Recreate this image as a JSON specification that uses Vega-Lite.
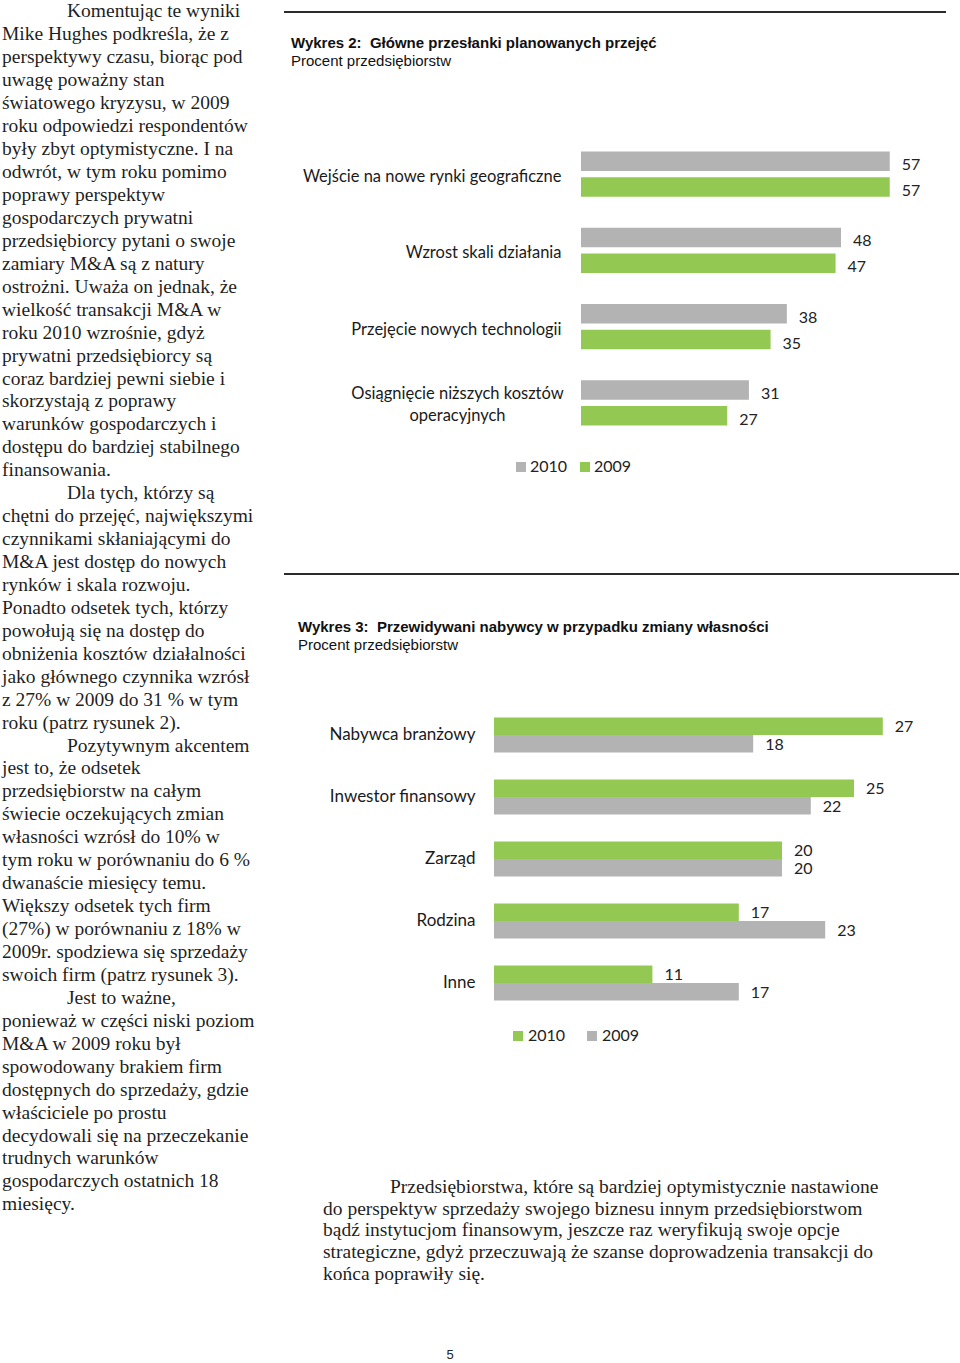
{
  "$schema": "https://vega.github.io/schema/vega-lite/v6.json",
  "padding": {"left": 2, "top": 0, "right": 0, "bottom": 0},
  "background": "white",
  "config": {
    "view": {"stroke": null},
    "title": {"font": "Liberation Sans", "fontSize": 15, "fontWeight": "bold", "color": "#111111", "subtitleFont": "Liberation Sans", "subtitleFontSize": 15, "subtitleColor": "#111111", "subtitlePadding": 3, "anchor": "start", "frame": "group"}
  },
  "datasets": {
    "lewa": [
      {"wiersz": 1, "wciecie": 1, "tekst": "Komentując te wyniki"},
      {"wiersz": 2, "wciecie": 0, "tekst": "Mike Hughes podkreśla, że z"},
      {"wiersz": 3, "wciecie": 0, "tekst": "perspektywy czasu, biorąc pod"},
      {"wiersz": 4, "wciecie": 0, "tekst": "uwagę poważny stan"},
      {"wiersz": 5, "wciecie": 0, "tekst": "światowego kryzysu, w 2009"},
      {"wiersz": 6, "wciecie": 0, "tekst": "roku odpowiedzi respondentów"},
      {"wiersz": 7, "wciecie": 0, "tekst": "były zbyt optymistyczne. I na"},
      {"wiersz": 8, "wciecie": 0, "tekst": "odwrót, w tym roku pomimo"},
      {"wiersz": 9, "wciecie": 0, "tekst": "poprawy perspektyw"},
      {"wiersz": 10, "wciecie": 0, "tekst": "gospodarczych prywatni"},
      {"wiersz": 11, "wciecie": 0, "tekst": "przedsiębiorcy pytani o swoje"},
      {"wiersz": 12, "wciecie": 0, "tekst": "zamiary M&A są z natury"},
      {"wiersz": 13, "wciecie": 0, "tekst": "ostrożni. Uważa on jednak, że"},
      {"wiersz": 14, "wciecie": 0, "tekst": "wielkość transakcji M&A w"},
      {"wiersz": 15, "wciecie": 0, "tekst": "roku 2010 wzrośnie, gdyż"},
      {"wiersz": 16, "wciecie": 0, "tekst": "prywatni przedsiębiorcy są"},
      {"wiersz": 17, "wciecie": 0, "tekst": "coraz bardziej pewni siebie i"},
      {"wiersz": 18, "wciecie": 0, "tekst": "skorzystają z poprawy"},
      {"wiersz": 19, "wciecie": 0, "tekst": "warunków gospodarczych i"},
      {"wiersz": 20, "wciecie": 0, "tekst": "dostępu do bardziej stabilnego"},
      {"wiersz": 21, "wciecie": 0, "tekst": "finansowania."},
      {"wiersz": 22, "wciecie": 1, "tekst": "Dla tych, którzy są"},
      {"wiersz": 23, "wciecie": 0, "tekst": "chętni do przejęć, największymi"},
      {"wiersz": 24, "wciecie": 0, "tekst": "czynnikami skłaniającymi do"},
      {"wiersz": 25, "wciecie": 0, "tekst": "M&A jest dostęp do nowych"},
      {"wiersz": 26, "wciecie": 0, "tekst": "rynków i skala rozwoju."},
      {"wiersz": 27, "wciecie": 0, "tekst": "Ponadto odsetek tych, którzy"},
      {"wiersz": 28, "wciecie": 0, "tekst": "powołują się na dostęp do"},
      {"wiersz": 29, "wciecie": 0, "tekst": "obniżenia kosztów działalności"},
      {"wiersz": 30, "wciecie": 0, "tekst": "jako głównego czynnika wzrósł"},
      {"wiersz": 31, "wciecie": 0, "tekst": "z 27% w 2009 do 31 % w tym"},
      {"wiersz": 32, "wciecie": 0, "tekst": "roku (patrz rysunek 2)."},
      {"wiersz": 33, "wciecie": 1, "tekst": "Pozytywnym akcentem"},
      {"wiersz": 34, "wciecie": 0, "tekst": "jest to, że odsetek"},
      {"wiersz": 35, "wciecie": 0, "tekst": "przedsiębiorstw na całym"},
      {"wiersz": 36, "wciecie": 0, "tekst": "świecie oczekujących zmian"},
      {"wiersz": 37, "wciecie": 0, "tekst": "własności wzrósł do 10% w"},
      {"wiersz": 38, "wciecie": 0, "tekst": "tym roku w porównaniu do 6 %"},
      {"wiersz": 39, "wciecie": 0, "tekst": "dwanaście miesięcy temu."},
      {"wiersz": 40, "wciecie": 0, "tekst": "Większy odsetek tych firm"},
      {"wiersz": 41, "wciecie": 0, "tekst": "(27%) w porównaniu z 18% w"},
      {"wiersz": 42, "wciecie": 0, "tekst": "2009r. spodziewa się sprzedaży"},
      {"wiersz": 43, "wciecie": 0, "tekst": "swoich firm (patrz rysunek 3)."},
      {"wiersz": 44, "wciecie": 1, "tekst": "Jest to ważne,"},
      {"wiersz": 45, "wciecie": 0, "tekst": "ponieważ w części niski poziom"},
      {"wiersz": 46, "wciecie": 0, "tekst": "M&A w 2009 roku był"},
      {"wiersz": 47, "wciecie": 0, "tekst": "spowodowany brakiem firm"},
      {"wiersz": 48, "wciecie": 0, "tekst": "dostępnych do sprzedaży, gdzie"},
      {"wiersz": 49, "wciecie": 0, "tekst": "właściciele po prostu"},
      {"wiersz": 50, "wciecie": 0, "tekst": "decydowali się na przeczekanie"},
      {"wiersz": 51, "wciecie": 0, "tekst": "trudnych warunków"},
      {"wiersz": 52, "wciecie": 0, "tekst": "gospodarczych ostatnich 18"},
      {"wiersz": 53, "wciecie": 0, "tekst": "miesięcy."}
    ],
    "wykres2": [
      {"kategoria": "Wejście na nowe rynki geograficzne", "rok": "2010", "procent": 57},
      {"kategoria": "Wejście na nowe rynki geograficzne", "rok": "2009", "procent": 57},
      {"kategoria": "Wzrost skali działania", "rok": "2010", "procent": 48},
      {"kategoria": "Wzrost skali działania", "rok": "2009", "procent": 47},
      {"kategoria": "Przejęcie nowych technologii", "rok": "2010", "procent": 38},
      {"kategoria": "Przejęcie nowych technologii", "rok": "2009", "procent": 35},
      {"kategoria": "Osiągnięcie niższych kosztów operacyjnych", "rok": "2010", "procent": 31},
      {"kategoria": "Osiągnięcie niższych kosztów operacyjnych", "rok": "2009", "procent": 27}
    ],
    "wykres3": [
      {"kategoria": "Nabywca branżowy", "rok": "2010", "procent": 27},
      {"kategoria": "Nabywca branżowy", "rok": "2009", "procent": 18},
      {"kategoria": "Inwestor finansowy", "rok": "2010", "procent": 25},
      {"kategoria": "Inwestor finansowy", "rok": "2009", "procent": 22},
      {"kategoria": "Zarząd", "rok": "2010", "procent": 20},
      {"kategoria": "Zarząd", "rok": "2009", "procent": 20},
      {"kategoria": "Rodzina", "rok": "2010", "procent": 17},
      {"kategoria": "Rodzina", "rok": "2009", "procent": 23},
      {"kategoria": "Inne", "rok": "2010", "procent": 11},
      {"kategoria": "Inne", "rok": "2009", "procent": 17}
    ],
    "akapit": [
      {"wiersz": 1, "wciecie": 1, "tekst": "Przedsiębiorstwa, które są bardziej optymistycznie nastawione"},
      {"wiersz": 2, "wciecie": 0, "tekst": "do perspektyw sprzedaży swojego biznesu innym przedsiębiorstwom"},
      {"wiersz": 3, "wciecie": 0, "tekst": "bądź instytucjom finansowym, jeszcze raz weryfikują swoje opcje"},
      {"wiersz": 4, "wciecie": 0, "tekst": "strategiczne, gdyż przeczuwają że szanse doprowadzenia transakcji do"},
      {"wiersz": 5, "wciecie": 0, "tekst": "końca poprawiły się."}
    ]
  },
  "columns": 2,
  "align": "none",
  "spacing": 11,
  "resolve": {"scale": {"color": "independent", "yOffset": "independent"}, "legend": {"color": "independent"}},
  "concat": [
    {
      "data": {"name": "lewa"},
      "width": 270,
      "height": {"step": 23.07},
      "mark": {"type": "text", "align": "left", "baseline": "middle", "font": "Liberation Serif", "fontSize": 19.5, "color": "#1f1f1f"},
      "encoding": {
        "x": {"field": "wciecie", "type": "quantitative", "scale": {"domain": [0, 1], "range": [0, 65]}, "axis": null},
        "y": {"field": "wiersz", "type": "ordinal", "axis": null, "scale": {"paddingOuter": 0.35}},
        "text": {"field": "tekst", "type": "nominal"}
      }
    },
    {
      "columns": 1,
      "align": "none",
      "spacing": 87,
      "resolve": {"scale": {"color": "independent", "yOffset": "independent"}, "legend": {"color": "independent"}},
      "concat": [
        {
          "columns": 1,
          "align": "none",
          "spacing": 23,
          "resolve": {"scale": {"color": "independent", "yOffset": "independent"}, "legend": {"color": "independent"}},
          "concat": [
            {
              "width": 662,
              "height": 12,
              "data": {"values": [{"linia": "separator"}]},
              "mark": {"type": "rule", "color": "#2a2a2a", "strokeWidth": 2},
              "encoding": {"y": {"datum": 0, "type": "quantitative", "scale": {"domain": [0, 1]}, "axis": null}}
            },
            {
              "data": {"name": "wykres2"},
              "width": 640,
              "height": 305,
              "title": {"text": "Wykres 2:\u00a0 Główne przesłanki planowanych przejęć", "subtitle": "Procent przedsiębiorstw", "dx": 7, "offset": 67},
              "encoding": {
                "y": {
                  "field": "kategoria", "type": "nominal", "sort": null,
                  "scale": {"paddingInner": 0.404, "paddingOuter": 0.202},
                  "axis": {
                    "title": null, "domain": false, "ticks": false, "offset": -297,
                    "labelFont": "Lato", "labelFontSize": 16.5, "labelColor": "#1a1a1a",
                    "labelLimit": 400, "labelLineHeight": 22,
                    "labelExpr": "datum.value == 'Osiągnięcie niższych kosztów operacyjnych' ? ['Osiągnięcie niższych kosztów', 'operacyjnych'] : datum.value",
                    "labelAlign": {"condition": {"test": "datum.value == 'Osiągnięcie niższych kosztów operacyjnych'", "value": "center"}, "value": "right"},
                    "labelPadding": {"condition": {"test": "datum.value == 'Osiągnięcie niższych kosztów operacyjnych'", "value": 124}, "value": 20},
                    "labelOffset": {"condition": {"test": "datum.value == 'Osiągnięcie niższych kosztów operacyjnych'", "value": -9}, "value": 3}
                  }
                },
                "yOffset": {"field": "rok", "type": "nominal", "sort": ["2010", "2009"], "scale": {"paddingInner": 0.25, "paddingOuter": 0}},
                "x": {"field": "procent", "type": "quantitative", "scale": {"domain": [0, 60], "range": [297, 622]}, "axis": null}
              },
              "layer": [
                {
                  "mark": {"type": "bar"},
                  "encoding": {
                    "color": {
                      "field": "rok", "type": "nominal", "sort": ["2010", "2009"],
                      "scale": {"domain": ["2010", "2009"], "range": ["#b3b3b3", "#93c852"]},
                      "legend": {"title": null, "orient": "none", "legendX": 229, "legendY": 323, "direction": "horizontal", "symbolType": "square", "symbolSize": 100, "symbolStrokeWidth": 0, "symbolOpacity": 1, "labelFont": "Lato", "labelFontSize": 16, "labelColor": "#222222", "labelOffset": 1, "columnPadding": 9, "padding": 0}
                    }
                  }
                },
                {
                  "mark": {"type": "text", "align": "left", "baseline": "middle", "dx": 12, "dy": 4, "font": "Lato", "fontSize": 16, "color": "#222222"},
                  "encoding": {"text": {"field": "procent", "type": "quantitative"}}
                }
              ]
            }
          ]
        },
        {
          "columns": 1,
          "align": "none",
          "spacing": 132,
          "resolve": {"scale": {"color": "independent", "yOffset": "independent"}, "legend": {"color": "independent"}},
          "concat": [
            {
              "columns": 1,
              "align": "none",
              "spacing": 44,
              "resolve": {"scale": {"color": "independent", "yOffset": "independent"}, "legend": {"color": "independent"}},
              "concat": [
                {
                  "width": 675,
                  "height": 12,
                  "data": {"values": [{"linia": "separator"}]},
                  "mark": {"type": "rule", "color": "#2a2a2a", "strokeWidth": 2},
                  "encoding": {"y": {"datum": 0, "type": "quantitative", "scale": {"domain": [0, 1]}, "axis": null}}
                },
                {
                  "data": {"name": "wykres3"},
                  "width": 660,
                  "height": 310,
                  "title": {"text": "Wykres 3:\u00a0 Przewidywani nabywcy w przypadku zmiany własności", "subtitle": "Procent przedsiębiorstw", "dx": 14, "offset": 51.5},
                  "encoding": {
                    "y": {
                      "field": "kategoria", "type": "nominal", "sort": null,
                      "scale": {"paddingInner": 0.435, "paddingOuter": 0.2177},
                      "axis": {
                        "title": null, "domain": false, "ticks": false, "offset": -210,
                        "labelFont": "Lato", "labelFontSize": 17, "labelColor": "#1a1a1a",
                        "labelLimit": 400, "labelPadding": 19, "labelOffset": 0
                      }
                    },
                    "yOffset": {"field": "rok", "type": "nominal", "sort": ["2010", "2009"], "scale": {"paddingInner": 0, "paddingOuter": 0}},
                    "x": {"field": "procent", "type": "quantitative", "scale": {"domain": [0, 30], "range": [210, 642]}, "axis": null}
                  },
                  "layer": [
                    {
                      "mark": {"type": "bar"},
                      "encoding": {
                        "color": {
                          "field": "rok", "type": "nominal", "sort": ["2010", "2009"],
                          "scale": {"domain": ["2010", "2009"], "range": ["#93c852", "#b3b3b3"]},
                          "legend": {"title": null, "orient": "none", "legendX": 226, "legendY": 324, "direction": "horizontal", "symbolType": "square", "symbolSize": 100, "symbolStrokeWidth": 0, "symbolOpacity": 1, "labelFont": "Lato", "labelFontSize": 16, "labelColor": "#222222", "labelOffset": 2, "columnPadding": 18, "padding": 0}
                        }
                      }
                    },
                    {
                      "mark": {"type": "text", "align": "left", "baseline": "middle", "dx": 12, "dy": 1, "font": "Lato", "fontSize": 16, "color": "#222222"},
                      "encoding": {"text": {"field": "procent", "type": "quantitative"}}
                    }
                  ]
                }
              ]
            },
            {
              "columns": 1,
              "align": "none",
              "spacing": 63,
              "concat": [
                {
                  "data": {"name": "akapit"},
                  "width": 600,
                  "height": {"step": 23.07},
                  "mark": {"type": "text", "align": "left", "baseline": "middle", "font": "Liberation Serif", "fontSize": 19.5, "color": "#1f1f1f"},
                  "encoding": {
                    "x": {"field": "wciecie", "type": "quantitative", "scale": {"domain": [0, 1], "range": [39, 106]}, "axis": null},
                    "y": {"field": "wiersz", "type": "ordinal", "axis": null, "scale": {"paddingOuter": 0.35}},
                    "text": {"field": "tekst", "type": "nominal"}
                  }
                },
                {
                  "width": 332,
                  "height": 14,
                  "data": {"values": [{"strona": "5"}]},
                  "mark": {"type": "text", "font": "Liberation Sans", "fontSize": 13, "color": "#222222"},
                  "encoding": {"text": {"field": "strona", "type": "nominal"}}
                }
              ]
            }
          ]
        }
      ]
    }
  ]
}
